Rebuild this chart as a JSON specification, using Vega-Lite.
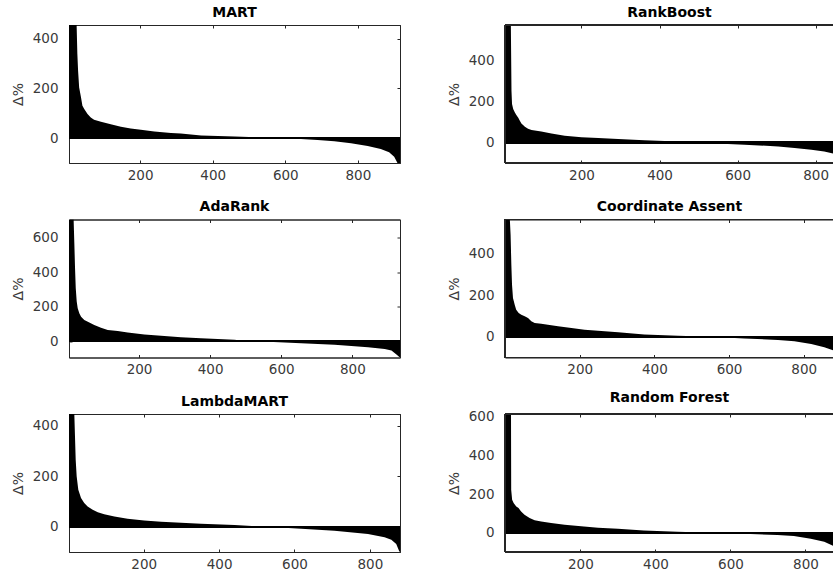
{
  "$schema": "https://vega.github.io/schema/vega-lite/v6.json",
  "padding": {"left": 10, "top": 5, "right": 0, "bottom": 0},
  "background": "white",
  "datasets": {
    "mart": [
      {"i": 4, "d": 455}, {"i": 25, "d": 455}, {"i": 27, "d": 339}, {"i": 29, "d": 272}, {"i": 32, "d": 204},
      {"i": 37, "d": 164}, {"i": 41, "d": 130}, {"i": 46, "d": 117}, {"i": 55, "d": 97}, {"i": 64, "d": 83},
      {"i": 73, "d": 74}, {"i": 92, "d": 66}, {"i": 119, "d": 56}, {"i": 147, "d": 46}, {"i": 174, "d": 39},
      {"i": 202, "d": 34}, {"i": 239, "d": 27}, {"i": 285, "d": 21}, {"i": 312, "d": 19}, {"i": 368, "d": 11},
      {"i": 460, "d": 7}, {"i": 524, "d": 3}, {"i": 597, "d": 0}, {"i": 643, "d": -3}, {"i": 689, "d": -8},
      {"i": 735, "d": -13}, {"i": 781, "d": -21}, {"i": 827, "d": -32}, {"i": 863, "d": -44}, {"i": 886, "d": -57},
      {"i": 900, "d": -75}, {"i": 909, "d": -100}, {"i": 916, "d": -100}
    ],
    "rankboost": [
      {"i": 1, "d": 576}, {"i": 19, "d": 576}, {"i": 20.6, "d": 254}, {"i": 22, "d": 189}, {"i": 25, "d": 164},
      {"i": 29, "d": 148}, {"i": 33, "d": 135}, {"i": 38, "d": 122}, {"i": 42, "d": 107}, {"i": 46, "d": 93},
      {"i": 55, "d": 77}, {"i": 63, "d": 68}, {"i": 72, "d": 62}, {"i": 97, "d": 54}, {"i": 123, "d": 45},
      {"i": 157, "d": 34}, {"i": 200, "d": 26}, {"i": 243, "d": 23}, {"i": 294, "d": 18}, {"i": 361, "d": 11},
      {"i": 447, "d": 5}, {"i": 490, "d": 2}, {"i": 532, "d": -3}, {"i": 618, "d": -10}, {"i": 704, "d": -19},
      {"i": 746, "d": -26}, {"i": 789, "d": -35}, {"i": 822, "d": -44}, {"i": 847, "d": -55}, {"i": 855, "d": -100}
    ],
    "adarank": [
      {"i": 1, "d": 705}, {"i": 16, "d": 705}, {"i": 18, "d": 568}, {"i": 20, "d": 423}, {"i": 22, "d": 306},
      {"i": 24.7, "d": 229}, {"i": 27.5, "d": 190}, {"i": 32, "d": 161}, {"i": 37, "d": 141}, {"i": 46, "d": 122},
      {"i": 56, "d": 112}, {"i": 74, "d": 93}, {"i": 93, "d": 77}, {"i": 112, "d": 64}, {"i": 140, "d": 58},
      {"i": 168, "d": 50}, {"i": 215, "d": 39}, {"i": 262, "d": 31}, {"i": 318, "d": 23}, {"i": 374, "d": 16},
      {"i": 468, "d": 8}, {"i": 496, "d": 2}, {"i": 563, "d": -4}, {"i": 656, "d": -12}, {"i": 750, "d": -21},
      {"i": 844, "d": -35}, {"i": 891, "d": -45}, {"i": 910, "d": -54}, {"i": 924, "d": -78}, {"i": 933, "d": -93},
      {"i": 934, "d": -95}
    ],
    "ca": [
      {"i": 0, "d": 564}, {"i": 13, "d": 564}, {"i": 15, "d": 490}, {"i": 17, "d": 346}, {"i": 18.8, "d": 250},
      {"i": 21.4, "d": 186}, {"i": 26, "d": 154}, {"i": 30, "d": 130}, {"i": 36.6, "d": 114}, {"i": 43.7, "d": 106},
      {"i": 52.7, "d": 98}, {"i": 61.6, "d": 90}, {"i": 70.5, "d": 74}, {"i": 79.5, "d": 66}, {"i": 97, "d": 62},
      {"i": 115, "d": 58}, {"i": 142, "d": 50}, {"i": 178, "d": 42}, {"i": 213, "d": 34}, {"i": 249, "d": 29},
      {"i": 303, "d": 22}, {"i": 373, "d": 11}, {"i": 463, "d": 5}, {"i": 552, "d": 0}, {"i": 641, "d": -8},
      {"i": 731, "d": -16}, {"i": 775, "d": -22}, {"i": 820, "d": -35}, {"i": 855, "d": -51}, {"i": 881, "d": -67},
      {"i": 886, "d": -100}
    ],
    "lambdamart": [
      {"i": 1, "d": 447}, {"i": 15.7, "d": 447}, {"i": 17.5, "d": 358}, {"i": 19.4, "d": 265}, {"i": 22, "d": 199},
      {"i": 26.3, "d": 147}, {"i": 33.5, "d": 114}, {"i": 42, "d": 94}, {"i": 51, "d": 80}, {"i": 64.5, "d": 67},
      {"i": 78, "d": 58}, {"i": 95, "d": 50}, {"i": 122, "d": 41}, {"i": 157, "d": 32}, {"i": 201, "d": 25},
      {"i": 246, "d": 20}, {"i": 299, "d": 16}, {"i": 352, "d": 12}, {"i": 441, "d": 7}, {"i": 511, "d": 1},
      {"i": 573, "d": -4}, {"i": 618, "d": -8}, {"i": 706, "d": -16}, {"i": 795, "d": -29}, {"i": 839, "d": -42},
      {"i": 857, "d": -51}, {"i": 870, "d": -68}, {"i": 878, "d": -97}, {"i": 880, "d": -100}
    ],
    "rf": [
      {"i": 0, "d": 615}, {"i": 15, "d": 615}, {"i": 15.5, "d": 222}, {"i": 18, "d": 171}, {"i": 22, "d": 154},
      {"i": 29, "d": 136}, {"i": 35, "d": 128}, {"i": 42, "d": 110}, {"i": 51, "d": 93}, {"i": 64.5, "d": 76},
      {"i": 78, "d": 64}, {"i": 95.5, "d": 58}, {"i": 122, "d": 50}, {"i": 158, "d": 41}, {"i": 202, "d": 33},
      {"i": 247, "d": 26}, {"i": 300, "d": 20}, {"i": 369, "d": 12}, {"i": 458, "d": 5}, {"i": 547, "d": 0},
      {"i": 636, "d": -5}, {"i": 725, "d": -12}, {"i": 769, "d": -17}, {"i": 814, "d": -31}, {"i": 850, "d": -47},
      {"i": 876, "d": -70}, {"i": 880, "d": -99}
    ]
  },
  "columns": 2,
  "spacing": {"row": 56.5, "column": 105},
  "bounds": "flush",
  "concat": [
    {
      "title": "MART", "width": 331, "height": 138, "data": {"name": "mart"},
      "view": {"stroke": "#262626", "strokeWidth": 1},
      "resolve": {"axis": {"x": "independent", "y": "independent"}},
      "layer": [
        {"mark": {"type": "area", "color": "black", "clip": true, "interpolate": "linear"},
         "encoding": {
           "x": {"field": "i", "type": "quantitative", "scale": {"domain": [4, 916], "nice": false, "zero": false}, "axis": {"orient": "bottom", "values": [200, 400, 600, 800], "title": null}},
           "y": {"field": "d", "type": "quantitative", "scale": {"domain": [-100, 455], "nice": false}, "axis": {"orient": "left", "values": [0, 200, 400], "title": "Δ%", "titleX": -44}},
           "y2": {"datum": 0}}},
        {"mark": {"type": "rule", "color": "black", "strokeWidth": 1.5}, "encoding": {"y": {"datum": 0, "type": "quantitative", "axis": null}}},
        {"mark": {"type": "point", "opacity": 0},
         "encoding": {
           "x": {"datum": 500, "type": "quantitative", "scale": {"domain": [4, 916], "nice": false, "zero": false}, "axis": {"orient": "top", "values": [200, 400, 600, 800], "labels": false, "title": null}},
           "y": {"datum": 0, "type": "quantitative", "scale": {"domain": [-100, 455], "nice": false}, "axis": {"orient": "right", "values": [0, 200, 400], "labels": false, "title": null}}}}
      ]
    },
    {
      "title": "RankBoost", "width": 329, "height": 138, "data": {"name": "rankboost"},
      "resolve": {"axis": {"x": "independent", "y": "independent"}},
      "layer": [
        {"mark": {"type": "area", "color": "black", "clip": true, "interpolate": "linear"},
         "encoding": {
           "x": {"field": "i", "type": "quantitative", "scale": {"domain": [4, 847], "nice": false, "zero": false}, "axis": {"orient": "bottom", "values": [200, 400, 600, 800], "title": null}},
           "y": {"field": "d", "type": "quantitative", "scale": {"domain": [-100, 576], "nice": false}, "axis": {"orient": "left", "values": [0, 200, 400], "title": "Δ%", "titleX": -44}},
           "y2": {"datum": 0}}},
        {"mark": {"type": "rule", "color": "black", "strokeWidth": 1.5}, "encoding": {"y": {"datum": 0, "type": "quantitative", "axis": null}}},
        {"mark": {"type": "rect", "fill": null, "stroke": "#262626", "strokeWidth": 1},
         "encoding": {
           "x": {"datum": 4, "type": "quantitative", "scale": {"domain": [4, 847], "nice": false, "zero": false}, "axis": {"orient": "top", "values": [200, 400, 600, 800], "labels": false, "title": null}},
           "x2": {"datum": 847},
           "y": {"datum": -100, "type": "quantitative", "scale": {"domain": [-100, 576], "nice": false}, "axis": null},
           "y2": {"datum": 576}}}
      ]
    },
    {
      "title": "AdaRank", "width": 331, "height": 138, "data": {"name": "adarank"},
      "view": {"stroke": "#262626", "strokeWidth": 1},
      "resolve": {"axis": {"x": "independent", "y": "independent"}},
      "layer": [
        {"mark": {"type": "area", "color": "black", "clip": true, "interpolate": "linear"},
         "encoding": {
           "x": {"field": "i", "type": "quantitative", "scale": {"domain": [3, 934], "nice": false, "zero": false}, "axis": {"orient": "bottom", "values": [200, 400, 600, 800], "title": null}},
           "y": {"field": "d", "type": "quantitative", "scale": {"domain": [-95, 705], "nice": false}, "axis": {"orient": "left", "values": [0, 200, 400, 600], "title": "Δ%", "titleX": -44}},
           "y2": {"datum": 0}}},
        {"mark": {"type": "rule", "color": "black", "strokeWidth": 1.5}, "encoding": {"y": {"datum": 0, "type": "quantitative", "axis": null}}},
        {"mark": {"type": "point", "opacity": 0},
         "encoding": {
           "x": {"datum": 500, "type": "quantitative", "scale": {"domain": [3, 934], "nice": false, "zero": false}, "axis": {"orient": "top", "values": [200, 400, 600, 800], "labels": false, "title": null}},
           "y": {"datum": 0, "type": "quantitative", "scale": {"domain": [-95, 705], "nice": false}, "axis": {"orient": "right", "values": [0, 200, 400, 600], "labels": false, "title": null}}}}
      ]
    },
    {
      "title": "Coordinate Assent", "width": 329, "height": 138, "data": {"name": "ca"},
      "resolve": {"axis": {"x": "independent", "y": "independent"}},
      "layer": [
        {"mark": {"type": "area", "color": "black", "clip": true, "interpolate": "linear"},
         "encoding": {
           "x": {"field": "i", "type": "quantitative", "scale": {"domain": [0, 881], "nice": false, "zero": false}, "axis": {"orient": "bottom", "values": [200, 400, 600, 800], "title": null}},
           "y": {"field": "d", "type": "quantitative", "scale": {"domain": [-100, 564], "nice": false}, "axis": {"orient": "left", "values": [0, 200, 400], "title": "Δ%", "titleX": -44}},
           "y2": {"datum": 0}}},
        {"mark": {"type": "rule", "color": "black", "strokeWidth": 1.5}, "encoding": {"y": {"datum": 0, "type": "quantitative", "axis": null}}},
        {"mark": {"type": "rect", "fill": null, "stroke": "#262626", "strokeWidth": 1},
         "encoding": {
           "x": {"datum": 0, "type": "quantitative", "scale": {"domain": [0, 881], "nice": false, "zero": false}, "axis": {"orient": "top", "values": [200, 400, 600, 800], "labels": false, "title": null}},
           "x2": {"datum": 881},
           "y": {"datum": -100, "type": "quantitative", "scale": {"domain": [-100, 564], "nice": false}, "axis": null},
           "y2": {"datum": 564}}}
      ]
    },
    {
      "title": "LambdaMART", "width": 331, "height": 138, "data": {"name": "lambdamart"},
      "view": {"stroke": "#262626", "strokeWidth": 1},
      "resolve": {"axis": {"x": "independent", "y": "independent"}},
      "layer": [
        {"mark": {"type": "area", "color": "black", "clip": true, "interpolate": "linear"},
         "encoding": {
           "x": {"field": "i", "type": "quantitative", "scale": {"domain": [1.6, 880], "nice": false, "zero": false}, "axis": {"orient": "bottom", "values": [200, 400, 600, 800], "title": null}},
           "y": {"field": "d", "type": "quantitative", "scale": {"domain": [-100, 447], "nice": false}, "axis": {"orient": "left", "values": [0, 200, 400], "title": "Δ%", "titleX": -44}},
           "y2": {"datum": 0}}},
        {"mark": {"type": "rule", "color": "black", "strokeWidth": 1.5}, "encoding": {"y": {"datum": 0, "type": "quantitative", "axis": null}}},
        {"mark": {"type": "point", "opacity": 0},
         "encoding": {
           "x": {"datum": 500, "type": "quantitative", "scale": {"domain": [1.6, 880], "nice": false, "zero": false}, "axis": {"orient": "top", "values": [200, 400, 600, 800], "labels": false, "title": null}},
           "y": {"datum": 0, "type": "quantitative", "scale": {"domain": [-100, 447], "nice": false}, "axis": {"orient": "right", "values": [0, 200, 400], "labels": false, "title": null}}}}
      ]
    },
    {
      "title": "Random Forest", "width": 329, "height": 138, "data": {"name": "rf"},
      "resolve": {"axis": {"x": "independent", "y": "independent"}},
      "layer": [
        {"mark": {"type": "area", "color": "black", "clip": true, "interpolate": "linear"},
         "encoding": {
           "x": {"field": "i", "type": "quantitative", "scale": {"domain": [-1, 876], "nice": false, "zero": false}, "axis": {"orient": "bottom", "values": [200, 400, 600, 800], "title": null}},
           "y": {"field": "d", "type": "quantitative", "scale": {"domain": [-100, 615], "nice": false}, "axis": {"orient": "left", "values": [0, 200, 400, 600], "title": "Δ%", "titleX": -44}},
           "y2": {"datum": 0}}},
        {"mark": {"type": "rule", "color": "black", "strokeWidth": 1.5}, "encoding": {"y": {"datum": 0, "type": "quantitative", "axis": null}}},
        {"mark": {"type": "rect", "fill": null, "stroke": "#262626", "strokeWidth": 1},
         "encoding": {
           "x": {"datum": -1, "type": "quantitative", "scale": {"domain": [-1, 876], "nice": false, "zero": false}, "axis": {"orient": "top", "values": [200, 400, 600, 800], "labels": false, "title": null}},
           "x2": {"datum": 876},
           "y": {"datum": -100, "type": "quantitative", "scale": {"domain": [-100, 615], "nice": false}, "axis": null},
           "y2": {"datum": 615}}}
      ]
    }
  ],
  "config": {
    "font": "DejaVu Sans",
    "axis": {
      "grid": false, "zindex": 1, "domain": true, "ticks": true,
      "labelFont": "DejaVu Sans", "labelFontSize": 13.5, "labelColor": "#3a3a3a",
      "domainColor": "#262626", "domainWidth": 1, "tickColor": "#262626", "tickSize": -3, "tickWidth": 1,
      "titleFont": "DejaVu Sans", "titleFontSize": 14, "titleFontWeight": "normal", "titleColor": "#3a3a3a"
    },
    "axisX": {"labelPadding": 8},
    "axisY": {"labelPadding": 14},
    "title": {"font": "DejaVu Sans", "fontSize": 14, "fontWeight": "bold", "color": "#000000", "offset": 5, "anchor": "middle"}
  }
}
